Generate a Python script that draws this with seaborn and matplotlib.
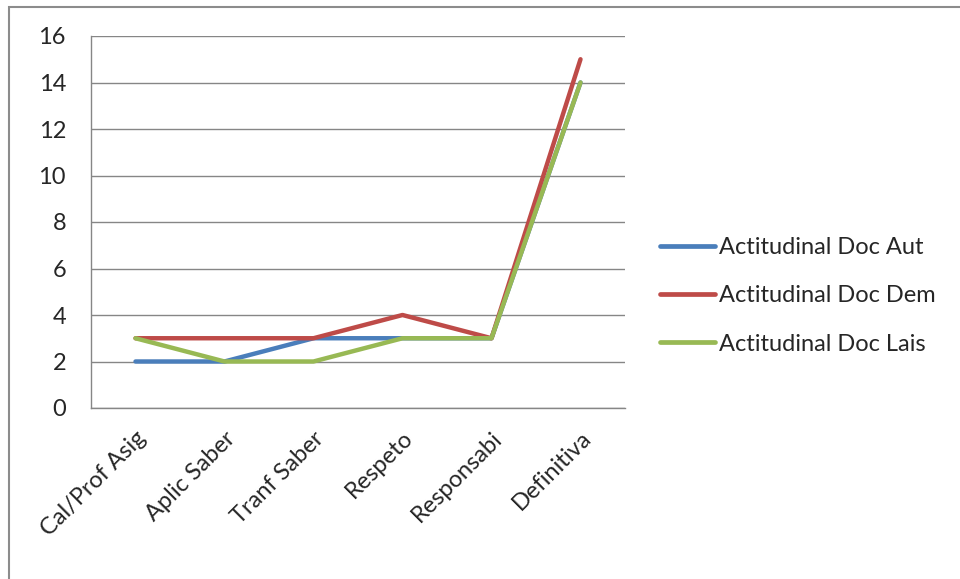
import pandas as pd
import matplotlib
matplotlib.use('Agg')
import matplotlib.pyplot as plt
import seaborn as sns
from matplotlib.patches import Rectangle
from matplotlib.lines import Line2D

# data
categories = ['Cal/Prof Asig', 'Aplic Saber', 'Tranf Saber', 'Respeto', 'Responsabi', 'Definitiva']
doc_aut = [2, 2, 3, 3, 3, 14]
doc_dem = [3, 3, 3, 4, 3, 15]
doc_lais = [3, 2, 2, 3, 3, 14]
series_names = ['Actitudinal Doc Aut', 'Actitudinal Doc Dem', 'Actitudinal Doc Lais']
colors = ['#4A7EBB', '#BE4B48', '#98B954']

df = pd.DataFrame({
    'categoria': categories * 3,
    'valor': doc_aut + doc_dem + doc_lais,
    'serie': [series_names[0]] * 6 + [series_names[1]] * 6 + [series_names[2]] * 6,
})

sns.set_style('white')
plt.rcParams['font.family'] = ['Lato', 'DejaVu Sans']
fs = 17

fig = plt.figure(figsize=(9.6, 5.79), dpi=100)
ax = fig.add_axes([91 / 960, 1 - 408 / 579, (625 - 91) / 960, (408 - 36) / 579])

sns.lineplot(data=df, x='categoria', y='valor', hue='serie', palette=colors,
             linewidth=3.2, sort=False, legend=False, ax=ax)

grid_c = '#868686'
ax.set_xlim(-0.5, len(categories) - 0.5)
ax.set_ylim(0, 16)
ax.set_yticks(range(0, 17, 2))
ax.yaxis.grid(True, color=grid_c, linewidth=1)
ax.set_axisbelow(True)
ax.set_xlabel('')
ax.set_ylabel('')

ax.set_xticks(range(len(categories)))
ax.set_xticklabels(categories, rotation=45, ha='right', rotation_mode='anchor', fontsize=fs)
ax.set_xticks([i - 0.5 for i in range(len(categories) + 1)], minor=True)
ax.tick_params(axis='x', which='major', length=0, pad=14)
ax.tick_params(axis='x', which='minor', length=7, width=1, color=grid_c, direction='out')
ax.tick_params(axis='y', length=7, width=1, color=grid_c, direction='out', labelsize=fs, pad=11)

for side in ['top', 'right']:
    ax.spines[side].set_visible(False)
for side in ['left', 'bottom']:
    ax.spines[side].set_color(grid_c)
    ax.spines[side].set_linewidth(1)

handles = [Line2D([], [], color=c, linewidth=3.4) for c in colors]
fig.legend(handles, series_names, loc='center left', bbox_to_anchor=(660 / 960, 1 - 296 / 579),
           frameon=False, fontsize=fs, handlelength=2.35, handletextpad=0.15, labelspacing=1.15,
           borderaxespad=0, borderpad=0)

# outer chart frame (left and top edges visible)
fig.patches.append(Rectangle((8.5 / 960, -0.1), 1.2, 1 - 7 / 579 + 0.1, transform=fig.transFigure,
                             fill=False, edgecolor='#8c8c8c', linewidth=1.5))

fig.savefig('out.png', dpi=100)
